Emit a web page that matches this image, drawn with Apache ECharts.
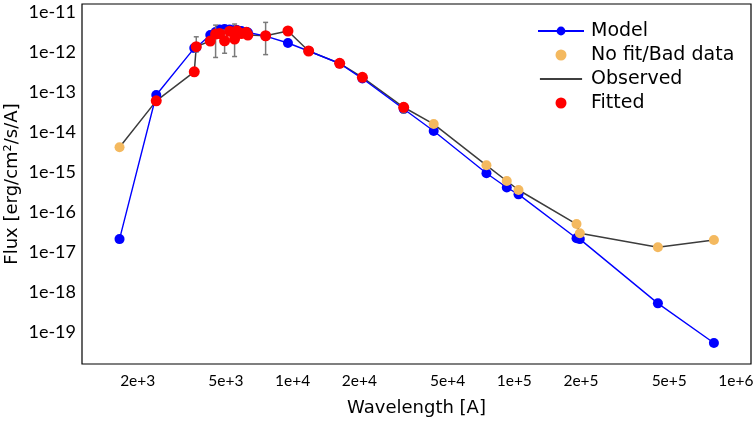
<!DOCTYPE html>
<html>
<head>
<meta charset="utf-8">
<script src="https://cdn.jsdelivr.net/npm/echarts@6/dist/echarts.min.js"></script>
<style>html,body{margin:0;padding:0;background:#fff}#c{width:754px;height:424px}</style>
</head>
<body>
<div id="c"></div>
<script>
// Wavelength [A] of each photometric point
const wavelength = [1656, 2425, 3599, 3675, 4250, 4492, 4682, 4932, 5195, 5472, 5605, 5866, 6180, 6283, 7553, 9524, 11810, 16300, 20640, 31700, 43300, 74900, 92500, 104500, 190900, 197600, 444600, 795600];
// Observed flux [erg/cm2/s/A]
const observedFlux = [4.14e-15, 6.0e-14, 3.2e-13, 1.36e-12, 1.88e-12, 2.8e-12, 2.9e-12, 1.9e-12, 3.3e-12, 2.1e-12, 3.4e-12, 2.9e-12, 3.1e-12, 2.65e-12, 2.55e-12, 3.35e-12, 1.06e-12, 5.2e-13, 2.33e-13, 4.15e-14, 1.58e-14, 1.47e-15, 5.96e-16, 3.55e-16, 5.0e-17, 2.94e-17, 1.31e-17, 2.0e-17];
// Model flux
const modelFlux = [2.1e-17, 8.4e-14, 1.25e-12, 1.3e-12, 2.66e-12, 3.16e-12, 3.65e-12, 3.76e-12, 3.65e-12, 3.55e-12, 3.55e-12, 3.35e-12, 3.16e-12, 3.08e-12, 2.5e-12, 1.68e-12, 1.06e-12, 5.16e-13, 2.17e-13, 3.76e-14, 1.06e-14, 9.3e-16, 4.1e-16, 2.76e-16, 2.2e-17, 2.1e-17, 5.2e-19, 5.3e-20];
// 1 = fitted, 0 = no fit / bad data
const fittedFlag = [0, 1, 1, 1, 1, 1, 1, 1, 1, 1, 1, 1, 1, 1, 1, 1, 1, 1, 1, 1, 0, 0, 0, 0, 0, 0, 0, 0];
// Error bars (lower, upper) for points that show them
const errIndex = [3, 5, 7, 9, 14, 19];
const errLower = [1.0e-12, 7.3e-13, 9.3e-13, 7.7e-13, 8.6e-13, 3.0e-14];
const errUpper = [2.4e-12, 4.7e-12, 3.5e-12, 5.0e-12, 5.5e-12, 5.2e-14];
// Axis ticks
const xTickValues = [2e3, 5e3, 1e4, 2e4, 5e4, 1e5, 2e5, 5e5, 1e6];
const xTickLabels = ['2e+3', '5e+3', '1e+4', '2e+4', '5e+4', '1e+5', '2e+5', '5e+5', '1e+6'];
const yTickValues = [1e-11, 1e-12, 1e-13, 1e-14, 1e-15, 1e-16, 1e-17, 1e-18, 1e-19];
const yTickLabels = ['1e-11', '1e-12', '1e-13', '1e-14', '1e-15', '1e-16', '1e-17', '1e-18', '1e-19'];

const L = Math.log10;
const FONT = '"DejaVu Sans"';
const TICKFONT = 'Lato';
const xLog = xTickValues.map(L);
const yLog = yTickValues.map(L);
function labelFor(v, logs, labels) {
  let best = 0;
  for (let i = 0; i < logs.length; i++) if (Math.abs(logs[i] - v) < Math.abs(logs[best] - v)) best = i;
  return labels[best];
}

const modelData = wavelength.map((w, i) => [L(w), L(modelFlux[i])]);
const obsData = wavelength.map((w, i) => [L(w), L(observedFlux[i])]);
const fitData = wavelength.map((w, i) => [L(w), L(observedFlux[i])]).filter((d, i) => fittedFlag[i] === 1);
const badData = wavelength.map((w, i) => [L(w), L(observedFlux[i])]).filter((d, i) => fittedFlag[i] === 0);
const errData = errIndex.map((k, j) => [L(wavelength[k]), L(errLower[j]), L(errUpper[j])]);

const lineIcon = 'path://M0,0L0.01,0L0.01,0.01L0,0.01ZM0,5.3L46,5.3L46,6.7L0,6.7ZM0,11.99L0.01,11.99L0.01,12L0,12Z';

const chart = echarts.init(document.getElementById('c'), null, {renderer: 'canvas'});
chart.setOption({
  animation: false,
  backgroundColor: '#fff',
  textStyle: {fontFamily: FONT},
  grid: {left: 82, right: 3, top: 4, bottom: 60, show: true, borderColor: '#000', borderWidth: 1.2,
    backgroundColor: 'transparent', outerBoundsMode: 'none', containLabel: false},
  legend: {
    orient: 'vertical', left: 537, top: 19, padding: 0, itemGap: 0,
    itemWidth: 46, itemHeight: 11,
    textStyle: {fontSize: 19, fontFamily: FONT, color: '#000', lineHeight: 24, padding: [0, 0, 0, 2]},
    data: [
      {name: 'Model'},
      {name: 'No fit/Bad data', icon: 'circle'},
      {name: 'Observed', icon: lineIcon, itemStyle: {color: '#000'}},
      {name: 'Fitted', icon: 'circle'}
    ]
  },
  xAxis: {
    type: 'value', min: 3.0497, max: 6.068,
    name: 'Wavelength [A]', nameLocation: 'middle', nameGap: 35, nameMoveOverlap: false,
    nameTextStyle: {fontSize: 18, color: '#000', fontFamily: FONT},
    axisLine: {show: false}, splitLine: {show: false},
    axisTick: {show: false, customValues: xLog},
    axisLabel: {customValues: xLog, fontSize: 15.5, color: '#000', margin: 9, fontFamily: TICKFONT,
      formatter: v => labelFor(v, xLog, xTickLabels)}
  },
  yAxis: {
    type: 'value', min: -19.8, max: -10.8,
    name: 'Flux [erg/cm²/s/A]', nameLocation: 'middle', nameGap: 61, nameMoveOverlap: false,
    nameTextStyle: {fontSize: 18, color: '#000', fontFamily: FONT},
    axisLine: {show: false}, splitLine: {show: false},
    axisTick: {show: false, customValues: yLog},
    axisLabel: {customValues: yLog, fontSize: 18, color: '#000', margin: 6, fontFamily: TICKFONT,
      formatter: v => labelFor(v, yLog, yTickLabels)}
  },
  series: [
    {name: 'Observed', type: 'line', data: obsData, showSymbol: false, symbol: 'none',
      lineStyle: {color: '#3c3c3c', width: 1.5}, itemStyle: {color: '#000'}, z: 2},
    {name: 'Model', type: 'line', data: modelData, symbol: 'circle', symbolSize: 10, showSymbol: true,
      lineStyle: {color: '#0000ff', width: 1.4}, itemStyle: {color: '#0000ff'}, z: 3},
    {name: 'errors', type: 'custom', data: errData, encode: {x: 0, y: [1, 2]}, z: 4,
      renderItem: function (params, api) {
        const x = api.value(0);
        const lo = api.coord([x, api.value(1)]);
        const hi = api.coord([x, api.value(2)]);
        const st = {stroke: '#7a7a7a', lineWidth: 1.5};
        return {type: 'group', children: [
          {type: 'line', shape: {x1: lo[0], y1: lo[1], x2: hi[0], y2: hi[1]}, style: st},
          {type: 'line', shape: {x1: lo[0] - 2.5, y1: lo[1], x2: lo[0] + 2.5, y2: lo[1]}, style: st},
          {type: 'line', shape: {x1: hi[0] - 2.5, y1: hi[1], x2: hi[0] + 2.5, y2: hi[1]}, style: st}
        ]};
      }},
    {name: 'No fit/Bad data', type: 'scatter', data: badData, symbol: 'circle', symbolSize: 10,
      itemStyle: {color: '#f4b95f', opacity: 1}, z: 5},
    {name: 'Fitted', type: 'scatter', data: fitData, symbol: 'circle', symbolSize: 11,
      itemStyle: {color: '#ff0000', opacity: 1}, z: 6}
  ]
});
</script>
</body>
</html>
